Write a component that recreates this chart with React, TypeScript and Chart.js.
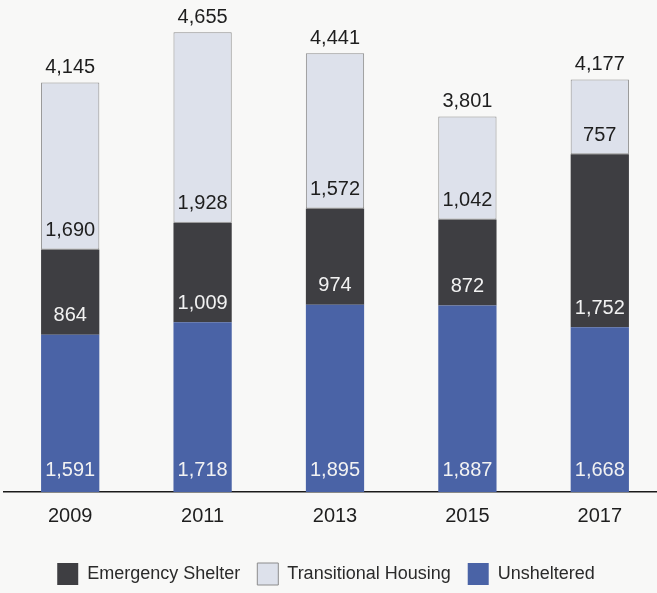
import React, { useEffect, useRef } from "react";
import { Chart, registerables } from "chart.js";

Chart.register(...registerables);

const years = ["2009", "2011", "2013", "2015", "2017"];
const unsheltered = [1591, 1718, 1895, 1887, 1668];
const emergencyShelter = [864, 1009, 974, 872, 1752];
const transitionalHousing = [1690, 1928, 1572, 1042, 757];

const FONT = "'Liberation Sans', Arial, Helvetica, sans-serif";
const fmt = (v: number) => v.toLocaleString("en-US");

const labelPlugin = {
  id: "segLabels",
  afterDatasetsDraw(chart: any) {
    const ctx = chart.ctx;
    ctx.save();
    ctx.font = `20px ${FONT}`;
    ctx.textAlign = "center";
    ctx.textBaseline = "middle";
    chart.data.datasets.forEach((ds: any, di: number) => {
      const meta = chart.getDatasetMeta(di);
      meta.data.forEach((bar: any, i: number) => {
        ctx.fillStyle = ds.labelColor;
        ctx.fillText(fmt(ds.data[i]), bar.x, bar.base - (di === 0 ? 22 : 19));
      });
    });
    const last = chart.getDatasetMeta(chart.data.datasets.length - 1);
    last.data.forEach((bar: any, i: number) => {
      const total = chart.data.datasets.reduce((s: number, d: any) => s + d.data[i], 0);
      ctx.fillStyle = "#1e1e1e";
      ctx.fillText(fmt(total), bar.x, bar.y - 15);
    });
    ctx.restore();
  },
};

const shiftLegend = {
  id: "shiftLegend",
  afterLayout(chart: any) {
    const lg = chart.legend;
    if (lg) {
      lg.left -= 9;
      lg.right -= 9;
    }
  },
};

export default function App() {
  const ref = useRef<HTMLCanvasElement>(null);
  useEffect(() => {
    if (!ref.current) return;
    const chart = new Chart(ref.current, {
      type: "bar",
      data: {
        labels: years,
        datasets: [
          {
            label: "Unsheltered",
            data: unsheltered,
            backgroundColor: "#4a63a6",
            borderColor: "#3d5391",
            borderWidth: 0,
            labelColor: "#f2f2f2",
          } as any,
          {
            label: "Emergency Shelter",
            data: emergencyShelter,
            backgroundColor: "#3e3e42",
            borderColor: "#333336",
            borderWidth: 0,
            labelColor: "#f2f2f2",
          } as any,
          {
            label: "Transitional Housing",
            data: transitionalHousing,
            backgroundColor: "#dde1eb",
            borderColor: "#8c8c8c",
            borderWidth: 1,
            borderSkipped: false,
            labelColor: "#1e1e1e",
          } as any,
        ],
      },
      options: {
        animation: false,
        responsive: false,
        maintainAspectRatio: false,
        layout: { padding: { left: 4, right: 4, top: 8, bottom: -2 } },
        datasets: { bar: { barPercentage: 0.44, categoryPercentage: 1 } },
        scales: {
          x: {
            stacked: true,
            grid: { display: false, drawTicks: false },
            border: { display: true, color: "#1a1a1a", width: 1.5 },
            ticks: {
              color: "#1e1e1e",
              font: { family: FONT, size: 20, lineHeight: 2.7 },
              padding: -3,
            },
            afterFit: (s: any) => {
              s.height += 6;
            },
          },
          y: {
            stacked: true,
            display: false,
            min: 0,
            max: 4900,
          },
        },
        plugins: {
          legend: {
            position: "bottom",
            labels: {
              boxWidth: 21,
              boxHeight: 22,
              padding: 17,
              color: "#2a2a2a",
              font: { family: FONT, size: 18 },
              sort: (a: any, b: any) => {
                const order = ["Emergency Shelter", "Transitional Housing", "Unsheltered"];
                return order.indexOf(a.text) - order.indexOf(b.text);
              },
            },
          },
          tooltip: { enabled: false },
        },
      },
      plugins: [labelPlugin, shiftLegend],
    });
    return () => chart.destroy();
  }, []);

  return (
    <div
      style={{
        position: "absolute",
        left: 0,
        top: 0,
        width: 657,
        height: 593,
        overflow: "hidden",
        background: "#f8f8f7",
      }}
    >
      <canvas ref={ref} width={670} height={593} style={{ display: "block" }} />
    </div>
  );
}
